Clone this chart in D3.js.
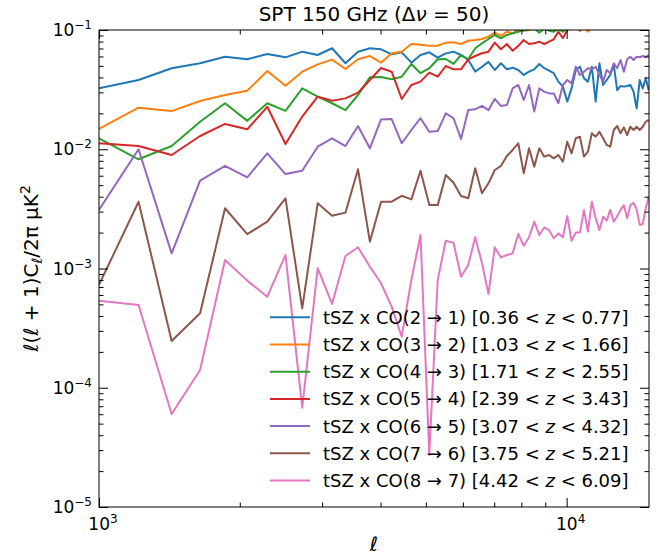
<!DOCTYPE html>
<html>
<head>
<meta charset="utf-8">
<script src="https://cdn.jsdelivr.net/npm/d3@7"></script>
<style>
body { margin: 0; background: #fff; }
text { font-family: "DejaVu Sans", sans-serif; fill: #000; }
</style>
</head>
<body>
<svg width="670" height="556"></svg>
<script>
// multipole bins
var ell = [1000, 1215, 1430, 1645, 1860, 2075, 2290, 2505, 2720, 2935, 3150, 3365, 3580, 3795,
  4010, 4225, 4440, 4655, 4870, 5085, 5300, 5515, 5730, 5945, 6160, 6375, 6590, 6805, 7020,
  7235, 7450, 7665, 7880, 8095, 8310, 8525, 8740, 8955, 9170, 9385, 9600, 9815, 10030, 10245,
  10460, 10675, 10890, 11105, 11320, 11535, 11750, 11965, 12180, 12395, 12610, 12825, 13040,
  13255, 13470, 13685, 13900, 14115, 14330, 14545, 14760, 14975];

var co21 = [0.0324, 0.0381, 0.0478, 0.0526, 0.0597, 0.0568, 0.0629, 0.0590, 0.0658, 0.0617,
  0.0703, 0.0526, 0.0658, 0.0703, 0.0689, 0.0625, 0.0650, 0.0532, 0.0617, 0.0650, 0.0586,
  0.0637, 0.0658, 0.0617, 0.0560, 0.0448, 0.0492, 0.0540, 0.0462, 0.0526, 0.0468, 0.0483,
  0.0462, 0.0420, 0.0448, 0.0468, 0.0519, 0.0478, 0.0456, 0.0434, 0.0369, 0.0335, 0.0251,
  0.0324, 0.0462, 0.0492, 0.0394, 0.0369, 0.0492, 0.0251, 0.0526, 0.0346, 0.0381, 0.0420,
  0.0509, 0.0314, 0.0339, 0.0335, 0.0339, 0.0346, 0.0304, 0.0220, 0.0381, 0.0324, 0.0394, 0.0314];

var co32 = [0.0148, 0.0223, 0.0209, 0.0254, 0.0285, 0.0310, 0.0453, 0.0341, 0.0447, 0.0515,
  0.0564, 0.0471, 0.0568, 0.0605, 0.0532, 0.0638, 0.0658, 0.0763, 0.0753, 0.0738, 0.0738,
  0.0783, 0.0789, 0.0763, 0.0813, 0.0824, 0.0841, 0.0879, 0.0949, 0.0891, 0.0968, 0.0938,
  0.101, 0.0987, 0.100, 0.104, 0.112, 0.108, 0.118, 0.122, 0.115, 0.125, 0.118, 0.128, 0.120,
  0.098, 0.110, 0.097, 0.105, 0.125, 0.132, 0.118, 0.128, 0.135, 0.122, 0.130, 0.140, 0.128,
  0.135, 0.125, 0.138, 0.132, 0.128, 0.140, 0.135, 0.130];

var co43 = [0.01236, 0.00824, 0.01064, 0.0170, 0.0243, 0.0173, 0.0243, 0.0210, 0.0324, 0.0276,
  0.0243, 0.0213, 0.0285, 0.0401, 0.0403, 0.0387, 0.0406, 0.0519, 0.0434, 0.0478, 0.0568,
  0.0571, 0.0519, 0.0617, 0.0568, 0.0703, 0.0773, 0.0841, 0.0908, 0.0852, 0.0908, 0.0938,
  0.0968, 0.100, 0.1014, 0.1033, 0.0949, 0.1033, 0.0987, 0.0968, 0.102, 0.0968, 0.105, 0.112,
  0.118, 0.110, 0.122, 0.115, 0.128, 0.120, 0.132, 0.125, 0.135, 0.130, 0.138, 0.128, 0.140,
  0.135, 0.145, 0.138, 0.142, 0.150, 0.140, 0.148, 0.145, 0.152];

var co54 = [0.01122, 0.01064, 0.00895, 0.01291, 0.0163, 0.0147, 0.0227, 0.01107, 0.0188, 0.0276,
  0.0255, 0.0267, 0.0298, 0.0381, 0.0480, 0.0447, 0.0264, 0.0346, 0.0369, 0.0439, 0.0406,
  0.0499, 0.0468, 0.0468, 0.0568, 0.0605, 0.0638, 0.0658, 0.0783, 0.0689, 0.0763, 0.0670,
  0.0735, 0.0824, 0.0763, 0.0773, 0.0798, 0.0763, 0.0798, 0.0836, 0.0968, 0.0852, 0.100,
  0.108, 0.104, 0.115, 0.110, 0.120, 0.112, 0.125, 0.118, 0.122, 0.130, 0.125, 0.128, 0.135,
  0.130, 0.138, 0.132, 0.140, 0.135, 0.142, 0.138, 0.145, 0.140, 0.148];

var co65 = [0.00310, 0.0100, 0.00134, 0.00545, 0.00724, 0.00582, 0.00925, 0.00619, 0.00661,
  0.0105, 0.01236, 0.01064, 0.01567, 0.01019, 0.0178, 0.0179, 0.01122, 0.0145, 0.0182, 0.0140,
  0.0142, 0.0200, 0.0182, 0.0122, 0.0213, 0.0216, 0.0231, 0.0213, 0.0264, 0.0231, 0.0235,
  0.0324, 0.0346, 0.0259, 0.0346, 0.0207, 0.0324, 0.0304, 0.0294, 0.0294, 0.0243, 0.0346,
  0.0381, 0.0357, 0.0492, 0.0420, 0.0447, 0.0478, 0.0468, 0.0492, 0.0420, 0.0369, 0.0462,
  0.0434, 0.0526, 0.0478, 0.0560, 0.0447, 0.0568, 0.0597, 0.0560, 0.0597, 0.0590, 0.0605,
  0.0594, 0.0617];

var co76 = [0.000728, 0.00363, 0.000247, 0.000421, 0.00320, 0.00194, 0.00247, 0.00388, 0.000463,
  0.00352, 0.00277, 0.00294, 0.00679, 0.00168, 0.00363, 0.00363, 0.00407, 0.00380, 0.00661,
  0.00340, 0.00340, 0.00608, 0.00524, 0.00405, 0.00388, 0.00692, 0.00428, 0.00518, 0.00670,
  0.00724, 0.00877, 0.00986, 0.01122, 0.00628, 0.01019, 0.00715, 0.01019, 0.00867, 0.00895,
  0.00839, 0.00895, 0.00787, 0.01156, 0.00925, 0.01236, 0.01274, 0.00867, 0.00953, 0.0136,
  0.01274, 0.0140, 0.01236, 0.01086, 0.0105, 0.0145, 0.01567, 0.0136, 0.01528, 0.01315,
  0.01545, 0.0145, 0.01545, 0.0145, 0.01545, 0.0170, 0.0176];

var co87 = [0.000537, 0.000494, 0.0000603, 0.000141, 0.001178, 0.000791, 0.000580, 0.001297,
  0.0000681, 0.001005, 0.000504, 0.001274, 0.001507, 0.001035, 0.000752, 0.000479, 0.000268,
  0.000802, 0.00191, 0.0000273, 0.000802, 0.00171, 0.00164, 0.000854, 0.00107, 0.00183,
  0.00111, 0.000611, 0.001507, 0.00124, 0.001297, 0.00134, 0.00195, 0.00155, 0.00183, 0.00247,
  0.00191, 0.00221, 0.00210, 0.00179, 0.00197, 0.00183, 0.00275, 0.00171, 0.00200, 0.00200,
  0.00310, 0.00204, 0.00363, 0.00264, 0.00210, 0.00272, 0.00252, 0.00310, 0.00247, 0.00275,
  0.00310, 0.00340, 0.00264, 0.00340, 0.00356, 0.00313, 0.00232, 0.00236, 0.00320, 0.00400];

var transitions = ["2\u21921", "3\u21922", "4\u21923", "5\u21924", "6\u21925", "7\u21926", "8\u21927"];
var zLow = ["0.36", "1.03", "1.71", "2.39", "3.07", "3.75", "4.42"];
var zHigh = ["0.77", "1.66", "2.55", "3.43", "4.32", "5.21", "6.09"];
var colors = ["#1f77b4", "#ff7f0e", "#2ca02c", "#d62728", "#9467bd", "#8c564b", "#e377c2"];
var series = [co21, co32, co43, co54, co65, co76, co87];

var svg = d3.select("svg");
var L = 99, R = 649, T = 30, B = 507;

var x = d3.scaleLog().domain([1000, 15000]).range([L, R]);
var y = d3.scaleLog().domain([1e-5, 1e-1]).range([B, T]);

svg.append("defs").append("clipPath").attr("id", "plot-area")
  .append("rect").attr("x", L).attr("y", T).attr("width", R - L).attr("height", B - T);

var line = d3.line()
  .x(function (d) { return x(d[0]); })
  .y(function (d) { return y(d[1]); });

var lines = svg.append("g").attr("clip-path", "url(#plot-area)");
series.forEach(function (s, k) {
  lines.append("path")
    .attr("d", line(ell.map(function (l, i) { return [l, s[i]]; })))
    .attr("fill", "none")
    .attr("stroke", colors[k])
    .attr("stroke-width", 2)
    .attr("stroke-linejoin", "round");
});

// ticks, pointing inwards on all four sides
var isMajor = function (v) { return Math.abs(Math.log10(v) - Math.round(Math.log10(v))) < 1e-9; };
var yMajor = y.ticks().filter(isMajor);
var yMinor = y.ticks().filter(function (v) { return !isMajor(v); });
var xMajor = x.ticks().filter(isMajor);
var xMinor = x.ticks().filter(function (v) { return !isMajor(v); });

function drawAxis(axis, tx, ty, major, minor) {
  [[major, 9], [minor, 4.5]].forEach(function (p) {
    svg.append("g").attr("transform", "translate(" + tx + "," + ty + ")")
      .call(axis.tickValues(p[0]).tickSize(-p[1]).tickFormat(""))
      .call(function (g) { g.select(".domain").remove(); })
      .selectAll("line").attr("stroke", "#000").attr("stroke-width", 1);
  });
}
drawAxis(d3.axisLeft(y), L, 0, yMajor, yMinor);
drawAxis(d3.axisRight(y), R, 0, yMajor, yMinor);
drawAxis(d3.axisBottom(x), 0, B, xMajor, xMinor);
drawAxis(d3.axisTop(x), 0, T, xMajor, xMinor);

svg.append("rect").attr("x", L).attr("y", T).attr("width", R - L).attr("height", B - T)
  .attr("fill", "none").attr("stroke", "#000").attr("stroke-width", 1);

// tick labels
yMajor.forEach(function (v) {
  var t = svg.append("text").attr("x", 92).attr("y", y(v) + 6)
    .attr("text-anchor", "end").attr("font-size", 17);
  t.append("tspan").text("10");
  t.append("tspan").attr("dy", -7).attr("font-size", 12)
    .text("\u2212" + (-Math.round(Math.log10(v))));
});
xMajor.forEach(function (v) {
  var t = svg.append("text").attr("x", x(v) + 4).attr("y", 530)
    .attr("text-anchor", "middle").attr("font-size", 17);
  t.append("tspan").text("10");
  t.append("tspan").attr("dy", -7).attr("font-size", 12).text(Math.round(Math.log10(v)));
});

// title and axis labels
var title = svg.append("text").attr("x", (L + R) / 2).attr("y", 21)
  .attr("text-anchor", "middle").attr("font-size", 20);
title.append("tspan").text("SPT 150 GHz (\u0394");
title.append("tspan").attr("font-style", "italic").text("\u03bd");
title.append("tspan").text(" = 50)");

svg.append("text").attr("x", (L + R) / 2).attr("y", 551)
  .attr("text-anchor", "middle").attr("font-size", 20).attr("font-style", "italic").text("\u2113");

var yl = svg.append("text").attr("transform", "translate(38," + (T + B) / 2 + ") rotate(-90)")
  .attr("text-anchor", "middle").attr("font-size", 20);
yl.append("tspan").text("\u2113(\u2113 + 1)C");
yl.append("tspan").attr("dy", 4).attr("font-size", 14).text("\u2113");
yl.append("tspan").attr("dy", -4).text("/2\u03c0 \u03bcK");
yl.append("tspan").attr("dy", -8).attr("font-size", 14).text("2");

// legend
var legend = svg.append("g");
transitions.forEach(function (tr, k) {
  var ly = 317.3 + k * 27.2;
  legend.append("line").attr("x1", 270).attr("x2", 310).attr("y1", ly).attr("y2", ly)
    .attr("stroke", colors[k]).attr("stroke-width", 2);
  var t = legend.append("text").attr("x", 323).attr("y", ly + 6.5).attr("font-size", 18);
  t.append("tspan").text("tSZ x CO(" + tr.replace("\u2192", " \u2192 ") + ") [" + zLow[k] + " < ");
  t.append("tspan").attr("font-style", "italic").text("z");
  t.append("tspan").text(" < " + zHigh[k] + "]");
});
</script>
</body>
</html>
